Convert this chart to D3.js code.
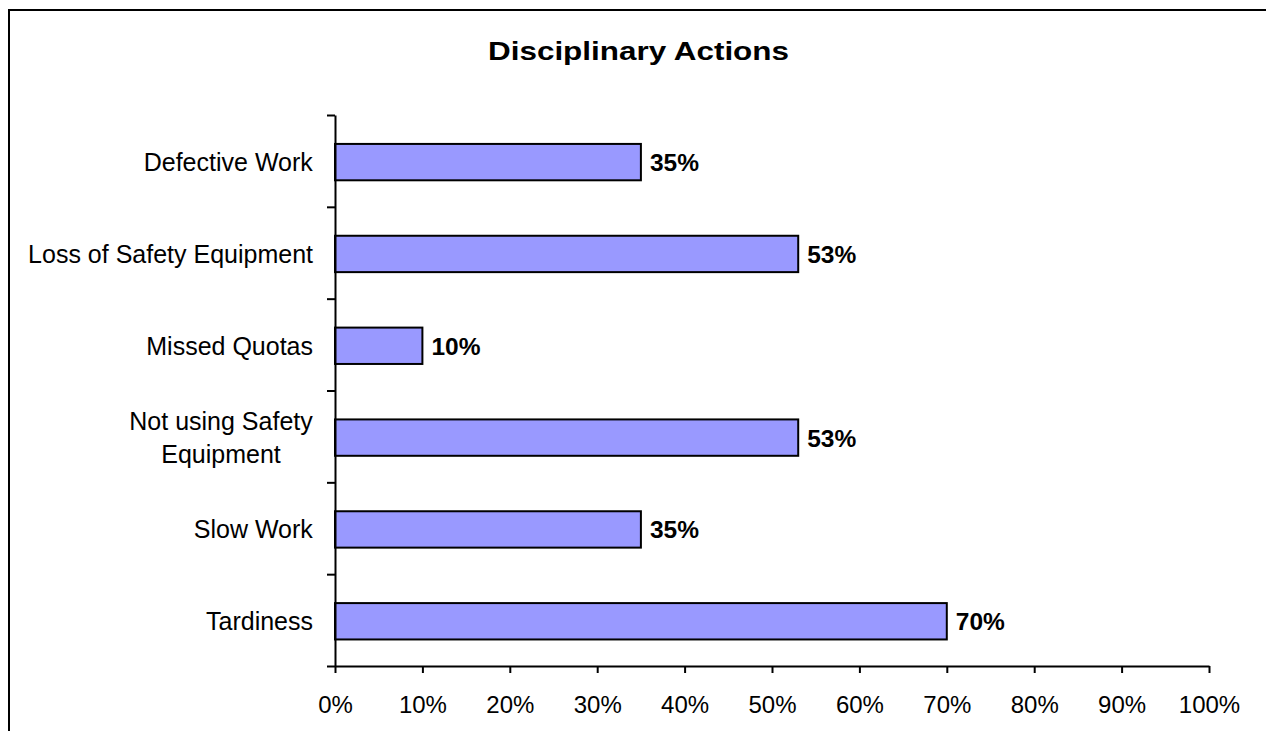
<!DOCTYPE html>
<html>
<head>
<meta charset="utf-8">
<script src="https://cdn.jsdelivr.net/npm/d3@7"></script>
<style>
  html, body { margin: 0; padding: 0; background: #fff; }
  svg { display: block; }
  text { font-family: "Liberation Sans", Arial, sans-serif; fill: #000; }
</style>
</head>
<body>
<svg id="chart" width="1266" height="731"></svg>
<script>
// Disciplinary actions, share of cases per category
const categories = [
  "Defective Work",
  "Loss of Safety Equipment",
  "Missed Quotas",
  "Not using Safety Equipment",
  "Slow Work",
  "Tardiness"
];
const values = [0.35, 0.53, 0.10, 0.53, 0.35, 0.70];
const xTicks = [0, 0.1, 0.2, 0.3, 0.4, 0.5, 0.6, 0.7, 0.8, 0.9, 1.0];
const title = "Disciplinary Actions";

const svg = d3.select("#chart");

// outer frame (top and left edges)
svg.append("path")
  .attr("d", "M9,731 V10 H1266")
  .attr("fill", "none")
  .attr("stroke", "#000")
  .attr("stroke-width", 2);

// title
svg.append("text")
  .attr("x", 638.5)
  .attr("y", 60)
  .attr("text-anchor", "middle")
  .attr("font-size", 26)
  .attr("font-weight", "bold")
  .attr("textLength", 301)
  .attr("lengthAdjust", "spacingAndGlyphs")
  .text(title);

const plot = { left: 335, right: 1209, top: 115, bottom: 666 };

const x = d3.scaleLinear().domain([0, 1]).range([plot.left, plot.right]);
// category slots, index 0 at the top
const slot = d3.scaleLinear().domain([0, categories.length]).range([plot.top, plot.bottom]);
const step = slot(1) - slot(0);

// bars
svg.append("g")
  .selectAll("rect")
  .data(values)
  .join("rect")
  .attr("x", x(0))
  .attr("y", (d, i) => slot(i) + step * 0.315)
  .attr("width", d => x(d) - x(0))
  .attr("height", step * 0.396)
  .attr("fill", "#9999ff")
  .attr("stroke", "#000")
  .attr("stroke-width", 2);

// value labels
svg.append("g")
  .selectAll("text")
  .data(values)
  .join("text")
  .attr("x", d => x(d) + 9)
  .attr("y", (d, i) => slot(i) + step * 0.513 + 9)
  .attr("font-size", 24.5)
  .attr("font-weight", "bold")
  .text(d => d3.format(".0%")(d));

// left axis: ticks at slot boundaries
const yAxis = svg.append("g")
  .attr("transform", `translate(${plot.left},0)`)
  .call(d3.axisLeft(slot)
    .tickValues(d3.range(categories.length + 1))
    .tickSize(8)
    .tickSizeOuter(0)
    .tickFormat(""));
yAxis.select(".domain").attr("stroke-width", 2);
yAxis.selectAll(".tick line").attr("stroke-width", 2);

// bottom axis
const xAxis = svg.append("g")
  .attr("transform", `translate(0,${plot.bottom})`)
  .call(d3.axisBottom(x)
    .tickValues(xTicks)
    .tickSize(7)
    .tickSizeOuter(0)
    .tickPadding(23)
    .tickFormat(d3.format(".0%")));
xAxis.select(".domain").attr("stroke-width", 2);
xAxis.selectAll(".tick line").attr("stroke-width", 2);
xAxis.selectAll(".tick text")
  .attr("font-size", 24)
  .attr("font-family", "Liberation Sans, Arial, sans-serif")
  .attr("fill", "#000")
  .attr("dy", "0.71em");

// category labels, wrapped and centred on their own block, right edge at 313
const labelRight = 313;
const maxLabelWidth = 305;
const lineHeight = 33.5;
const labels = svg.append("g");
categories.forEach((name, i) => {
  const t = labels.append("text")
    .attr("font-size", 25)
    .attr("text-anchor", "middle");
  // greedy word wrap
  const words = name.split(" ");
  const lines = [];
  let current = [];
  const probe = t.append("tspan");
  words.forEach(w => {
    const trial = current.concat(w).join(" ");
    probe.text(trial);
    if (probe.node().getComputedTextLength() > maxLabelWidth && current.length) {
      lines.push(current.join(" "));
      current = [w];
    } else {
      current.push(w);
    }
  });
  lines.push(current.join(" "));
  probe.remove();

  const cy = slot(i) + step * 0.513;
  const firstBaseline = cy - (lines.length - 1) * lineHeight / 2 + 9;
  lines.forEach((ln, k) => {
    t.append("tspan")
      .attr("x", 0)
      .attr("y", firstBaseline + k * lineHeight)
      .text(ln);
  });
  const w = t.node().getBBox().width;
  t.attr("transform", `translate(${labelRight - w / 2},0)`);
});
</script>
</body>
</html>
